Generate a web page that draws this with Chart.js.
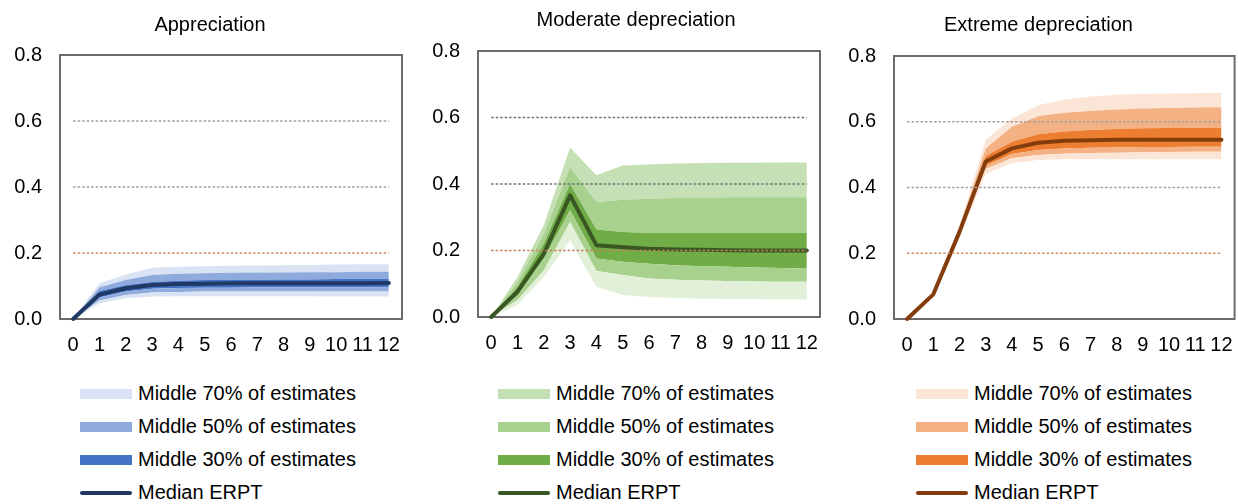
<!DOCTYPE html>
<html>
<head>
<meta charset="utf-8">
<script src="https://cdn.jsdelivr.net/npm/chart.js@4"></script>
<style>
  html, body { margin: 0; padding: 0; background: #fff; }
  body { width: 1238px; height: 504px; position: relative; overflow: hidden;
         font-family: 'Liberation Sans', Arial, sans-serif; }
  canvas { position: absolute; top: 0; }
  .legend { position: absolute; top: 377px; font-size: 20px; color: #000; }
  .row { position: relative; height: 33px; line-height: 33px; white-space: nowrap; }
  .sw { position: absolute; left: 0; width: 52px; }
  .row span { position: absolute; left: 58px; top: 0; }
</style>
</head>
<body>
<script>
// Horizon (months after the shock) and axis ticks
const categories = ['0', '1', '2', '3', '4', '5', '6', '7', '8', '9', '10', '11', '12'];
const yTicks = [0, 0.2, 0.4, 0.6, 0.8];
const refLevels = [0.2, 0.4, 0.6];
const panelTitles = ['Appreciation', 'Moderate depreciation', 'Extreme depreciation'];
const legendLabels = ['Middle 70% of estimates', 'Middle 50% of estimates', 'Middle 30% of estimates', 'Median ERPT'];

// Appreciation
const apprMedian = [0, 0.074, 0.093, 0.103, 0.106, 0.107, 0.108, 0.108, 0.108, 0.108, 0.108, 0.108, 0.109];
const apprHi70  = [0, 0.108, 0.135, 0.155, 0.158, 0.160, 0.161, 0.162, 0.163, 0.164, 0.165, 0.166, 0.166];
const apprHi50  = [0, 0.096, 0.118, 0.133, 0.137, 0.139, 0.140, 0.141, 0.141, 0.142, 0.142, 0.143, 0.143];
const apprHi30  = [0, 0.085, 0.102, 0.112, 0.116, 0.118, 0.119, 0.119, 0.120, 0.120, 0.121, 0.121, 0.121];
const apprLo30  = [0, 0.065, 0.083, 0.092, 0.094, 0.095, 0.095, 0.096, 0.096, 0.096, 0.096, 0.096, 0.096];
const apprLo50  = [0, 0.056, 0.073, 0.080, 0.082, 0.083, 0.083, 0.083, 0.083, 0.083, 0.083, 0.083, 0.083];
const apprLo70  = [0, 0.048, 0.063, 0.068, 0.069, 0.069, 0.069, 0.069, 0.069, 0.069, 0.068, 0.068, 0.068];

// Moderate depreciation
const modMedian = [0, 0.076, 0.190, 0.366, 0.216, 0.210, 0.205, 0.203, 0.202, 0.201, 0.200, 0.200, 0.200];
const modHi70  = [0, 0.120, 0.276, 0.510, 0.426, 0.456, 0.459, 0.462, 0.463, 0.464, 0.464, 0.465, 0.465];
const modHi50  = [0, 0.105, 0.250, 0.451, 0.346, 0.353, 0.356, 0.358, 0.359, 0.360, 0.360, 0.360, 0.360];
const modHi30  = [0, 0.090, 0.220, 0.400, 0.263, 0.256, 0.253, 0.253, 0.253, 0.253, 0.253, 0.253, 0.253];
const modLo30  = [0, 0.064, 0.175, 0.321, 0.176, 0.166, 0.160, 0.156, 0.153, 0.151, 0.149, 0.147, 0.146];
const modLo50  = [0, 0.051, 0.140, 0.286, 0.138, 0.126, 0.116, 0.112, 0.110, 0.108, 0.107, 0.106, 0.106];
const modLo70  = [0, 0.036, 0.120, 0.231, 0.091, 0.066, 0.060, 0.057, 0.055, 0.054, 0.054, 0.053, 0.053];

// Extreme depreciation
const extMedian = [0, 0.075, 0.265, 0.479, 0.519, 0.536, 0.542, 0.544, 0.545, 0.545, 0.545, 0.545, 0.545];
const extHi70  = [0, 0.078, 0.285, 0.545, 0.610, 0.650, 0.668, 0.677, 0.682, 0.685, 0.686, 0.687, 0.688];
const extHi50  = [0, 0.077, 0.278, 0.519, 0.585, 0.617, 0.627, 0.633, 0.637, 0.640, 0.642, 0.643, 0.644];
const extHi30  = [0, 0.076, 0.270, 0.496, 0.539, 0.562, 0.570, 0.575, 0.578, 0.580, 0.581, 0.582, 0.582];
const extLo30  = [0, 0.074, 0.260, 0.466, 0.502, 0.514, 0.519, 0.521, 0.522, 0.523, 0.523, 0.524, 0.524];
const extLo50  = [0, 0.073, 0.255, 0.456, 0.489, 0.499, 0.503, 0.505, 0.506, 0.507, 0.508, 0.509, 0.509];
const extLo70  = [0, 0.072, 0.248, 0.441, 0.474, 0.484, 0.486, 0.486, 0.486, 0.486, 0.486, 0.486, 0.486];

Chart.defaults.font.family = "'Liberation Sans', Arial, sans-serif";
Chart.defaults.color = '#000';

// left/width: canvas placement; yw: left axis width; rw: empty right gutter (keeps the title centred)
const panels = [
  { title: panelTitles[0],
    bands: { lo70: apprLo70, lo50: apprLo50, lo30: apprLo30, hi30: apprHi30, hi50: apprHi50, hi70: apprHi70 },
    median: apprMedian,
    colors: { c70: '#DAE3F3', c70low: '#DAE3F3', c50: '#8FAADC', c30: '#4472C4', median: '#203864', grid: '#a0a0a0', ref: '#CC8C62' },
    box: { left: 0, width: 420, height: 365, yw: 60, rw: 18, tTop: 13, tBot: 18 },
    legendLeft: 80 },
  { title: panelTitles[1],
    bands: { lo70: modLo70, lo50: modLo50, lo30: modLo30, hi30: modHi30, hi50: modHi50, hi70: modHi70 },
    median: modMedian,
    colors: { c70: '#C5E0B4', c70low: '#E2F0D9', c50: '#A9D18E', c30: '#70AD47', median: '#385723', grid: '#707070', ref: '#C4835A' },
    box: { left: 420, width: 432, height: 363, yw: 58, rw: 32, tTop: 8, tBot: 19 },
    legendLeft: 498 },
  { title: panelTitles[2],
    bands: { lo70: extLo70, lo50: extLo50, lo30: extLo30, hi30: extHi30, hi50: extHi50, hi70: extHi70 },
    median: extMedian,
    colors: { c70: '#FBE5D6', c70low: '#FBE5D6', c50: '#F4B183', c30: '#ED7D31', median: '#843C0C', grid: '#a0a0a0', ref: '#CC8C62' },
    box: { left: 830, width: 417, height: 365, yw: 64, rw: 10, tTop: 13, tBot: 19 },
    legendLeft: 916 }
];

// Grey frame round the plot area
const framePlugin = {
  id: 'frame',
  beforeDatasetsDraw(chart) {
    const a = chart.chartArea, ctx = chart.ctx;
    ctx.save();
    ctx.strokeStyle = '#6a6a6a';
    ctx.lineWidth = 2;
    ctx.strokeRect(a.left, a.top, a.right - a.left, a.bottom - a.top);
    ctx.restore();
  }
};

function band(data, color) {
  return { data, fill: color ? '-1' : false, backgroundColor: color || 'rgba(0,0,0,0)',
           borderColor: 'rgba(0,0,0,0)', borderWidth: 0, pointRadius: 0, tension: 0, order: 2 };
}

panels.forEach(p => {
  const c = p.colors, b = p.box;
  const canvas = document.createElement('canvas');
  canvas.width = b.width; canvas.height = b.height;
  canvas.style.left = b.left + 'px';
  canvas.style.width = b.width + 'px'; canvas.style.height = b.height + 'px';
  document.body.appendChild(canvas);

  const datasets = [
    band(p.bands.lo70, null),
    band(p.bands.lo50, c.c70low),
    band(p.bands.lo30, c.c50),
    band(p.bands.hi30, c.c30),
    band(p.bands.hi50, c.c50),
    band(p.bands.hi70, c.c70),
    { data: p.median, fill: false, borderColor: c.median, borderWidth: 4, pointRadius: 0, tension: 0,
      borderCapStyle: 'round', borderJoinStyle: 'round', order: 1, clip: 8 }
  ];
  refLevels.forEach(level => {
    datasets.push({ data: categories.map(() => level), fill: false,
      borderColor: level === 0.2 ? c.ref : c.grid, borderWidth: 1.3, borderDash: [2.5, 2],
      pointRadius: 0, order: 0 });
  });

  new Chart(canvas, {
    type: 'line',
    data: { labels: categories, datasets },
    plugins: [framePlugin],
    options: {
      responsive: false,
      animation: false,
      events: [],
      layout: { padding: 0 },
      plugins: {
        legend: { display: false },
        tooltip: { enabled: false },
        title: { display: true, text: p.title, color: '#000',
                 font: { size: 20, weight: 'normal' }, padding: { top: b.tTop, bottom: b.tBot } }
      },
      scales: {
        x: { type: 'category', offset: true,
             grid: { display: false, drawTicks: false }, border: { display: false },
             ticks: { autoSkip: false, maxRotation: 0, padding: 14, color: '#000', font: { size: 20 } },
             afterFit(s) { s.height = 46; } },
        y: { min: 0, max: 0.8,
             grid: { display: false, drawTicks: false }, border: { display: false },
             ticks: { padding: 18, color: '#000', font: { size: 20 }, callback: v => Number(v).toFixed(1) },
             afterBuildTicks(s) { s.ticks = yTicks.map(v => ({ value: v })); },
             afterFit(s) { s.width = b.yw; } },
        gutter: { position: 'right', min: 0, max: 0.8, display: b.rw > 0,
             grid: { display: false, drawTicks: false }, border: { display: false },
             ticks: { display: false },
             afterFit(s) { s.width = b.rw; } }
      }
    }
  });

  // Legend block under each panel
  const leg = document.createElement('div');
  leg.className = 'legend';
  leg.style.left = p.legendLeft + 'px';
  const swatches = [
    { color: c.c70, h: 10 }, { color: c.c50, h: 10 }, { color: c.c30, h: 10 }, { color: c.median, h: 4, r: 2 }
  ];
  legendLabels.forEach((txt, i) => {
    const row = document.createElement('div');
    row.className = 'row';
    const sw = document.createElement('div');
    sw.className = 'sw';
    sw.style.background = swatches[i].color;
    sw.style.height = swatches[i].h + 'px';
    sw.style.top = (16.5 - swatches[i].h / 2) + 'px';
    if (swatches[i].r) sw.style.borderRadius = swatches[i].r + 'px';
    const span = document.createElement('span');
    span.textContent = txt;
    row.appendChild(sw); row.appendChild(span);
    leg.appendChild(row);
  });
  document.body.appendChild(leg);
});
</script>
</body>
</html>
